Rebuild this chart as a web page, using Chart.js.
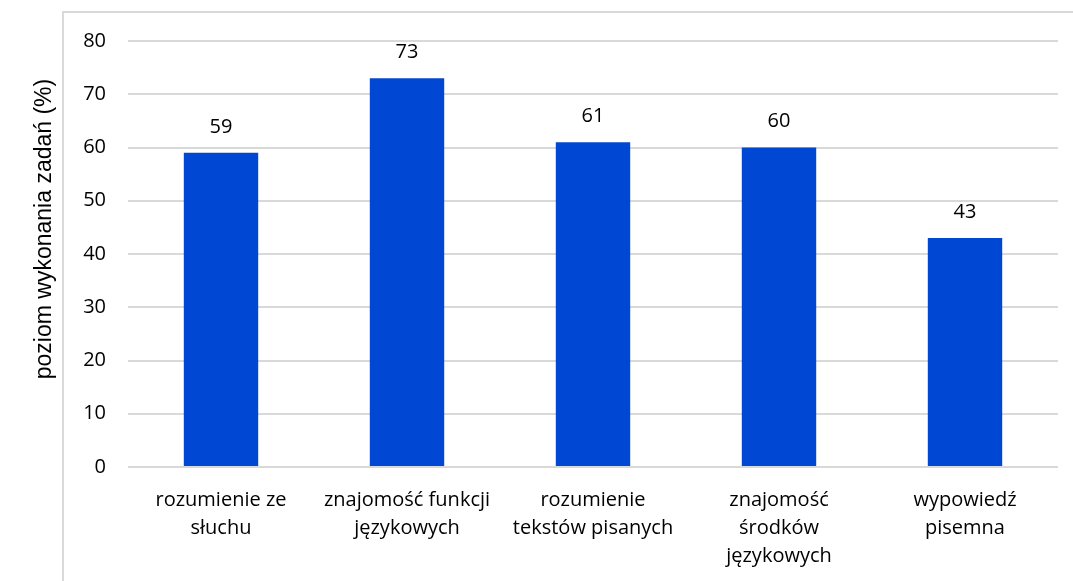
<!DOCTYPE html>
<html>
<head>
<meta charset="utf-8">
<script src="https://cdn.jsdelivr.net/npm/chart.js@4/dist/chart.umd.min.js"></script>
<style>
  html, body { margin: 0; padding: 0; background: #fff; }
  #wrap { width: 1073px; height: 581px; position: relative; }
</style>
</head>
<body>
<div id="wrap"><canvas id="chart"></canvas></div>
<script>
const categories = [
  ['rozumienie ze', 'słuchu'],
  ['znajomość funkcji', 'językowych'],
  ['rozumienie', 'tekstów pisanych'],
  ['znajomość', 'środków', 'językowych'],
  ['wypowiedź', 'pisemna']
];
const values = [59, 73, 61, 60, 43];
const yTicks = [0, 10, 20, 30, 40, 50, 60, 70, 80];
const yTitle = 'poziom wykonania zadań (%)';

const labelFont = '"Open Sans", sans-serif';

// frame, axis title and value labels
const extras = {
  id: 'extras',
  beforeDraw(chart) {
    const ctx = chart.ctx;
    ctx.save();
    ctx.strokeStyle = '#d9d9d9';
    ctx.lineWidth = 2;
    ctx.beginPath();
    ctx.moveTo(63, 600);
    ctx.lineTo(63, 12);
    ctx.lineTo(1100, 12);
    ctx.stroke();
    ctx.restore();
  },
  afterDatasetsDraw(chart) {
    const ctx = chart.ctx;
    ctx.save();
    ctx.fillStyle = '#000';
    ctx.font = '20px ' + labelFont;
    ctx.textAlign = 'center';
    ctx.textBaseline = 'middle';
    chart.getDatasetMeta(0).data.forEach((bar, i) => {
      ctx.fillText(values[i], bar.x, bar.y - 26);
    });
    ctx.translate(45, 229);
    ctx.rotate(-Math.PI / 2);
    ctx.font = '23px "Liberation Sans", Arial, sans-serif';
    ctx.fillText(yTitle, 0, 0);
    ctx.restore();
  }
};

new Chart(document.getElementById('chart'), {
  type: 'bar',
  data: {
    labels: categories,
    datasets: [{
      data: values,
      backgroundColor: '#0047d3',
      barPercentage: 0.4,
      categoryPercentage: 1
    }]
  },
  options: {
    responsive: true,
    maintainAspectRatio: false,
    animation: false,
    layout: { padding: { top: 41, right: 15, left: 0, bottom: 0 } },
    plugins: {
      legend: { display: false },
      tooltip: { enabled: false }
    },
    scales: {
      x: {
        grid: { display: false },
        border: { display: false },
        ticks: {
          color: '#000',
          font: { family: labelFont, size: 20, lineHeight: 1.4 },
          padding: 11,
          maxRotation: 0,
          autoSkip: false
        },
        afterFit(scale) { scale.height = 114; }
      },
      y: {
        min: 0,
        max: 80,
        afterBuildTicks(scale) { scale.ticks = yTicks.map(v => ({ value: v })); },
        grid: { color: '#d9d9d9', lineWidth: 2, drawTicks: false },
        border: { display: false },
        ticks: {
          color: '#000',
          font: { family: labelFont, size: 20 },
          padding: 22
        },
        afterFit(scale) { scale.width = 128; }
      }
    }
  },
  plugins: [extras]
});
</script>
</body>
</html>
